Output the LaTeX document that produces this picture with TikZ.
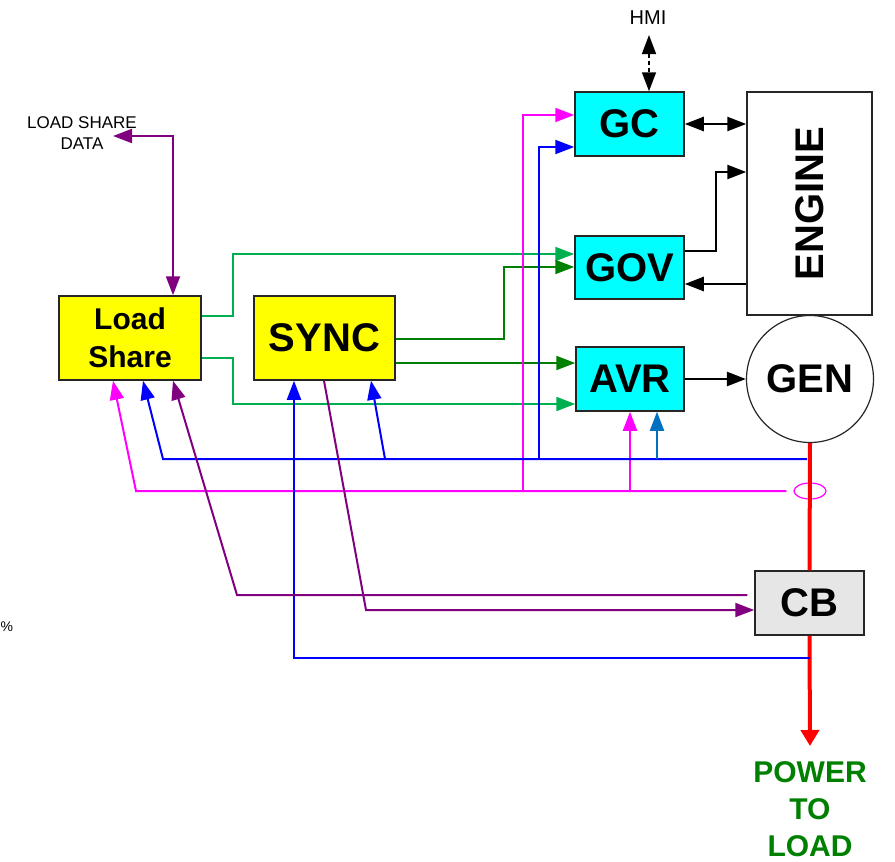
\documentclass[tikz,border=0pt]{standalone}
\usepackage{fontspec}
\setmainfont{Liberation Sans}
\usetikzlibrary{arrows.meta,shapes.geometric}
\definecolor{mag}{RGB}{255,0,255}
\definecolor{blu}{RGB}{0,0,255}
\definecolor{avrblu}{RGB}{0,112,192}
\definecolor{pur}{RGB}{128,0,128}
\definecolor{lgreen}{RGB}{0,176,80}
\definecolor{dgreen}{RGB}{0,128,0}
\definecolor{pgreen}{RGB}{0,128,0}
\definecolor{cbgray}{RGB}{230,230,230}
\definecolor{ctlcyan}{RGB}{0,255,255}
\definecolor{ctlyellow}{RGB}{255,255,0}

\begin{document}
\begin{tikzpicture}[x=1pt,y=-1pt]
\tikzstyle{every node}+=[inner sep=0pt]
\tikzstyle{box}=[draw=black!85, line width=1.5pt, font=\fontsize{40}{48}\selectfont\bfseries]
\tikzstyle{wire}=[line width=2pt]
\tikzstyle{tip}=[-{Triangle[length=19pt,width=14pt]}]
\tikzstyle{both}=[{Triangle[length=19pt,width=14pt]}-{Triangle[length=19pt,width=14pt]}]
\useasboundingbox (0,0) rectangle (895,862);
\node[box, fill=ctlcyan, minimum width=109pt, minimum height=64pt] (gc) at (629.5,124) {GC};
\node[box, fill=ctlcyan, minimum width=109pt, minimum height=63pt] (gov) at (629.5,267.5) {GOV};
\node[box, fill=ctlcyan, minimum width=108pt, minimum height=64pt] (avr) at (630,379) {AVR};
\node[box, fill=white, minimum width=125pt, minimum height=223pt] (engine) at (809.5,203.5) {};
\node[font=\fontsize{40}{48}\selectfont\bfseries, rotate=90] (enginetxt) at (engine) {ENGINE};
\node[box, circle, line width=1.2pt, minimum size=127pt] (gen) at (810,379) {GEN};
\node[box, fill=cbgray, minimum width=109pt, minimum height=64pt] (cb) at (809.5,603) {CB};
\node[box, fill=ctlyellow, minimum width=142pt, minimum height=84pt, align=center,
  font=\fontsize{30}{38}\selectfont\bfseries] (ls) at (130,338) {Load\\Share};
\node[box, fill=ctlyellow, minimum width=141pt, minimum height=84pt] (sync) at (324.5,338) {SYNC};
\node[font=\fontsize{20}{24}\selectfont] (hmi) at (648,18) {HMI};
\node[font=\fontsize{17}{21}\selectfont, align=center] (lsdata) at (82,133) {LOAD SHARE\\DATA};
\node[font=\fontsize{14}{17}\selectfont, anchor=west] (pct) at (0.5,627) {\%};
\node[font=\fontsize{30}{37}\selectfont\bfseries, text=pgreen, align=center, anchor=north] (power) at (810,761) {POWER\\TO\\LOAD};
\node[draw=mag, line width=1.2pt, ellipse, minimum width=32pt, minimum height=16pt] (ct) at (810,491) {};
\coordinate (hmiend) at (649,35);
\coordinate (lsd) at (113,136);
\coordinate (vt) at (807,459);
\coordinate (bus) at (810,658);
\coordinate (pwr) at (810,746);

\draw[both, line width=1.5pt, dash pattern=on 4pt off 3pt] (hmiend) -- (hmiend |- gc.north);
\draw[both, line width=2.5pt] (gc.east) -- (gc.east -| engine.west);
\draw[tip, line width=2.5pt] (gov.east |- 0,251) -- (716,251) |- (engine.west |- 0,172);
\draw[tip, line width=2.5pt] (engine.west |- 0,284) -- (gov.east |- 0,284);
\draw[tip, line width=2.5pt] (avr.east) -- (gen.west);
\draw[red, line width=4pt] (gen.south) -- (cb.north);
\draw[red, line width=4pt, -{Triangle[length=16pt,width=18pt]}] (cb.south) -- (pwr);

\draw[wire, lgreen, tip] (ls.east |- 0,316) -- (233,316) |- (gov.west |- 0,254);
\draw[wire, lgreen, tip] (ls.east |- 0,358) -- (233,358) |- (avr.west |- 0,404);
\draw[wire, dgreen, tip] (sync.east |- 0,339) -- (504,339) |- (gov.west |- 0,267);
\draw[wire, dgreen, tip] (sync.east |- 0,363) -- (avr.west |- 0,363);

\draw[wire, mag, tip] ([xshift=-7pt]ct.west) -- (136,491) -- (ls.south -| 113,0);
\draw[wire, mag, tip] (523,491) |- (gc.west |- 0,115);
\draw[wire, mag, tip] (630,491) -- (avr.south -| 630,0);

\draw[wire, blu, tip] (vt) -- (163,459) -- (ls.south -| 143,0);
\draw[wire, blu, tip] (539,459) |- (gc.west |- 0,147);
\draw[wire, blu, tip] (385,459) -- (sync.south -| 371,0);
\draw[wire, avrblu, tip] (657,459) -- (avr.south -| 657,0);
\draw[wire, blu, tip] (bus) -- (294,658) -- (sync.south -| 294,0);

\draw[wire, pur, tip, shorten <=7pt] (cb.west |- 0,595) -- (237,595) -- (ls.south -| 173,0);
\draw[wire, pur, tip] (sync.south -| 324,0) -- (366,610) -- (cb.west |- 0,610);
\draw[wire, pur, both] (ls.north -| 173,0) |- (lsd);
\end{tikzpicture}
\end{document}
